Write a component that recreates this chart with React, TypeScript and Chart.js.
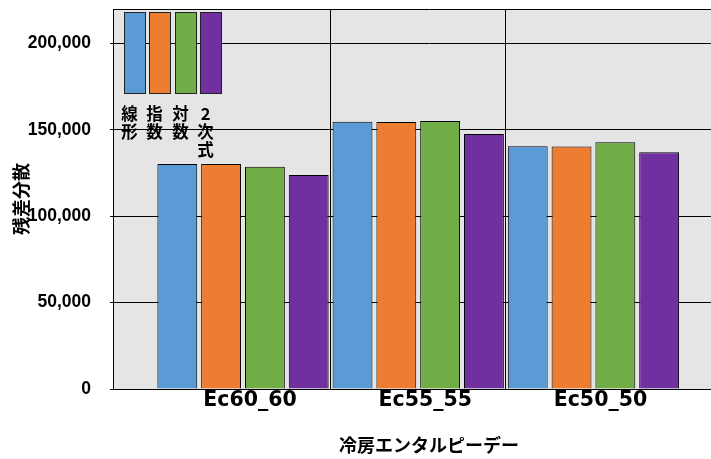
import React, { useEffect, useRef } from 'react';
import { Chart, registerables } from 'chart.js';

Chart.register(...registerables);

// ---- data ----
const categories = ['Ec60_60', 'Ec55_55', 'Ec50_50'];
const seriesNames = ['線形', '指数', '対数', '2次式'];
const linearVals = [130300, 154700, 140500];
const expVals = [130200, 154600, 140400];
const logVals = [128700, 155100, 142800];
const quadVals = [123900, 147600, 137000];
const seriesColors = ['#5B9BD5', '#ED7D31', '#70AD47', '#7030A0'];
const yTicks = [0, 50000, 100000, 150000, 200000];
const yMax = 220000;
const xMin = -0.742;
const xMax = 2.865;
const gridBoundaries = [0.5, 1.5];
const xTitle = '冷房エンタルピーデー';
const yTitle = '残差分散';

const allSeries = [linearVals, expVals, logVals, quadVals];

const plotBg = {
  id: 'plotBg',
  beforeDraw(chart: any) {
    const { ctx, chartArea: a } = chart;
    ctx.save();
    ctx.fillStyle = '#E5E5E5';
    ctx.fillRect(a.left, a.top, a.right - a.left, a.bottom - a.top);
    ctx.restore();
  },
};

const stackedLegend = {
  id: 'stackedLegend',
  afterDraw(chart: any) {
    const { ctx, chartArea: a } = chart;
    ctx.save();
    chart.data.datasets.forEach((ds: any, i: number) => {
      const x = Math.round(a.left + 11 + i * 25.3);
      const y = a.top + 3;
      ctx.fillStyle = ds.backgroundColor;
      ctx.fillRect(x, y, 22, 82);
      ctx.strokeStyle = '#222';
      ctx.lineWidth = 1;
      ctx.strokeRect(x + 0.5, y + 0.5, 21, 81);
      ctx.fillStyle = '#000';
      ctx.font = 'bold 16.5px "Noto Sans CJK JP", sans-serif';
      ctx.textAlign = 'center';
      ctx.textBaseline = 'middle';
      Array.from(String(ds.label)).forEach((ch, j) => {
        ctx.fillText(ch, x + 11 - 5.5, a.top + 105 + j * 17.7);
      });
    });
    ctx.restore();
  },
};

export default function App() {
  const ref = useRef<HTMLCanvasElement | null>(null);

  useEffect(() => {
    if (!ref.current) return;
    const chart = new Chart(ref.current, {
      type: 'bar',
      data: {
        datasets: allSeries.map((vals, i) => ({
          label: seriesNames[i],
          data: vals.map((v, j) => ({ x: j, y: v })),
          backgroundColor: seriesColors[i],
          borderColor: '#000',
          borderWidth: 1,
          barPercentage: 0.91,
          categoryPercentage: 1,
          xAxisID: 'x',
          yAxisID: 'y',
        })),
      },
      options: {
        responsive: false,
        animation: false,
        events: [],
        layout: { padding: { top: 9, left: 0, right: 0, bottom: 0 } },
        plugins: {
          legend: { display: false },
          tooltip: { enabled: false },
        },
        scales: {
          x: {
            type: 'linear',
            position: 'bottom',
            offset: false,
            min: xMin,
            max: xMax,
            afterBuildTicks: (s: any) => {
              s.ticks = categories.map((_, i) => ({ value: i }));
            },
            afterFit: (s: any) => {
              s.height = 70;
              s.paddingLeft = 0;
              s.paddingRight = 0;
            },
            grid: { display: false, drawTicks: false, offset: false },
            border: { display: true, color: '#000', width: 1 },
            ticks: {
              callback: (v: any) => categories[Math.round(Number(v))] ?? '',
              font: { family: '"DejaVu Sans", sans-serif', size: 20.5, weight: 'bold', lineHeight: 1 },
              color: '#000',
              padding: 1,
              labelOffset: 7,
              autoSkip: false,
              maxRotation: 0,
            },
            title: {
              display: true,
              text: xTitle,
              font: { family: '"Noto Sans CJK JP", sans-serif', size: 18, weight: 'bold' },
              color: '#000',
              padding: { top: 20, bottom: 3 },
            },
          },
          xg: {
            type: 'linear',
            position: 'top',
            offset: false,
            min: xMin,
            max: xMax,
            afterBuildTicks: (s: any) => {
              s.ticks = gridBoundaries.map((v) => ({ value: v }));
            },
            afterFit: (s: any) => {
              s.height = 0;
              s.paddingLeft = 0;
              s.paddingRight = 0;
            },
            grid: { color: '#000', lineWidth: 1, drawTicks: false, offset: false },
            border: { display: false },
            ticks: { display: false },
          },
          y: {
            type: 'linear',
            min: 0,
            max: yMax,
            afterBuildTicks: (s: any) => {
              s.ticks = [...yTicks, yMax].map((v) => ({ value: v }));
            },
            afterFit: (s: any) => {
              s.width = 113;
              s.paddingTop = 0;
              s.paddingBottom = 0;
            },
            grid: {
              color: '#000',
              lineWidth: 1,
              tickLength: 3,
              tickColor: (c: any) => (c.tick && c.tick.value === yMax ? 'rgba(0,0,0,0)' : '#000'),
            },
            border: { display: true, color: '#000', width: 1 },
            ticks: {
              callback: (v: any) => (yTicks.includes(Number(v)) ? Number(v).toLocaleString('en-US') : ''),
              font: { family: '"Liberation Sans", Arial, sans-serif', size: 17.5, weight: 'bold', lineHeight: 1 },
              color: '#000',
              padding: 19,
            },
            title: {
              display: true,
              text: yTitle,
              font: { family: '"Noto Sans CJK JP", sans-serif', size: 18, weight: 'bold' },
              color: '#000',
              padding: { top: 10, bottom: 0 },
            },
          },
        },
      } as any,
      plugins: [plotBg, stackedLegend],
    });
    return () => chart.destroy();
  }, []);

  return (
    <div style={{ position: 'fixed', left: 0, top: 0, width: 711, height: 459, overflow: 'hidden', background: '#fff' }}>
      <canvas ref={ref} width={745} height={459} style={{ display: 'block' }} />
    </div>
  );
}
